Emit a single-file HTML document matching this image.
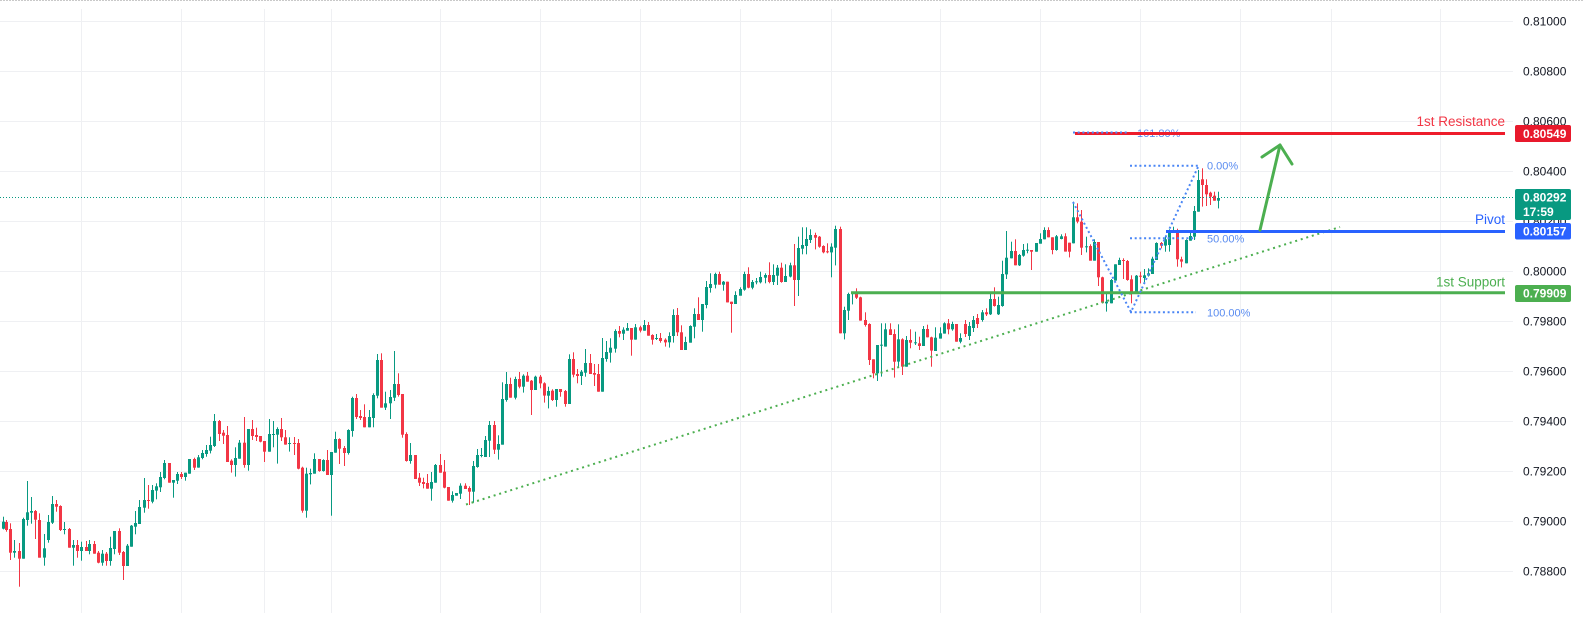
<!DOCTYPE html>
<html>
<head>
<meta charset="utf-8">
<style>
html,body{margin:0;padding:0;background:#fff;}
body{width:1584px;height:622px;overflow:hidden;}
svg{display:block;font-family:"Liberation Sans",Arial,sans-serif;}
</style>
</head>
<body>
<svg id="chart" width="1584" height="622" viewBox="0 0 1584 622" xmlns="http://www.w3.org/2000/svg">
  <rect x="0" y="0" width="1584" height="622" fill="#ffffff"/>
  <line x1="0" y1="0.5" x2="1584" y2="0.5" stroke="#c9c9c9" stroke-width="1" stroke-dasharray="2 1"/>
  <!-- horizontal grid -->
  <g stroke="#eff0f3" stroke-width="1">
    <line x1="0" y1="21.5" x2="1513" y2="21.5"/>
    <line x1="0" y1="71.5" x2="1513" y2="71.5"/>
    <line x1="0" y1="121.5" x2="1513" y2="121.5"/>
    <line x1="0" y1="171.5" x2="1513" y2="171.5"/>
    <line x1="0" y1="221.5" x2="1513" y2="221.5"/>
    <line x1="0" y1="271.5" x2="1513" y2="271.5"/>
    <line x1="0" y1="321.5" x2="1513" y2="321.5"/>
    <line x1="0" y1="371.5" x2="1513" y2="371.5"/>
    <line x1="0" y1="421.5" x2="1513" y2="421.5"/>
    <line x1="0" y1="471.5" x2="1513" y2="471.5"/>
    <line x1="0" y1="521.5" x2="1513" y2="521.5"/>
    <line x1="0" y1="571.5" x2="1513" y2="571.5"/>
  </g>
  <!-- vertical grid -->
  <g stroke="#eff0f3" stroke-width="1">
    <line x1="81.5" y1="9" x2="81.5" y2="613"/>
    <line x1="181.5" y1="9" x2="181.5" y2="613"/>
    <line x1="264.5" y1="9" x2="264.5" y2="613"/>
    <line x1="331.5" y1="9" x2="331.5" y2="613"/>
    <line x1="440.5" y1="9" x2="440.5" y2="613"/>
    <line x1="540.5" y1="9" x2="540.5" y2="613"/>
    <line x1="640.5" y1="9" x2="640.5" y2="613"/>
    <line x1="740.5" y1="9" x2="740.5" y2="613"/>
    <line x1="831.5" y1="9" x2="831.5" y2="613"/>
    <line x1="940.5" y1="9" x2="940.5" y2="613"/>
    <line x1="1040.5" y1="9" x2="1040.5" y2="613"/>
    <line x1="1140.5" y1="9" x2="1140.5" y2="613"/>
    <line x1="1240.5" y1="9" x2="1240.5" y2="613"/>
    <line x1="1331.5" y1="9" x2="1331.5" y2="613"/>
    <line x1="1440.5" y1="9" x2="1440.5" y2="613"/>
  </g>

  <g id="candles"></g>

  <!-- current price dotted line -->
  <line x1="0" y1="197.5" x2="1513" y2="197.5" stroke="#089981" stroke-width="1" stroke-dasharray="1 2"/>

  <!-- rising trendline (green dotted) -->
  <line x1="466" y1="504.5" x2="1340" y2="227" stroke="#4caf50" stroke-width="2" stroke-dasharray="2 3.8"/>

  <!-- support line -->
  <line x1="851" y1="292.7" x2="1505" y2="292.7" stroke="#4caf50" stroke-width="3"/>

  <!-- fib text 161.80 (under red line) -->
  <text x="1137" y="137" font-size="11" fill="#5a8cf0">161.80%</text>
  <!-- resistance line -->
  <line x1="1075" y1="133.5" x2="1505" y2="133.5" stroke="#ee1c2b" stroke-width="3"/>
  <line x1="1073" y1="132.5" x2="1128" y2="132.5" stroke="#4a86f5" stroke-width="2" stroke-dasharray="2 2.7"/>

  <!-- fib levels -->
  <g stroke="#4a86f5" stroke-width="2" stroke-dasharray="2 2.7" fill="none">
    <line x1="1130" y1="165.7" x2="1198" y2="165.7"/>
    <line x1="1130" y1="238.3" x2="1196" y2="238.3"/>
    <line x1="1130" y1="312.3" x2="1196" y2="312.3"/>
    <polyline points="1073,202 1131,312 1198,167"/>
  </g>
  <g font-size="11" fill="#5a8cf0">
    <text x="1207" y="169.7">0.00%</text>
    <text x="1207" y="242.3">50.00%</text>
    <text x="1207" y="316.3">100.00%</text>
  </g>

  <!-- pivot line -->
  <line x1="1166" y1="231.5" x2="1505" y2="231.5" stroke="#2962ff" stroke-width="3"/>

  <!-- arrow -->
  <g stroke="#4caf50" stroke-width="3" fill="none" stroke-linecap="round" stroke-linejoin="round">
    <line x1="1260" y1="230" x2="1280" y2="145"/>
    <polyline points="1262,157 1280,145 1292,164"/>
  </g>

  <!-- line labels -->
  <g font-size="13.5" text-anchor="end">
    <text x="1505" y="126" fill="#f23645">1st Resistance</text>
    <text x="1505" y="224" fill="#2962ff">Pivot</text>
    <text x="1505" y="286.5" fill="#4caf50">1st Support</text>
  </g>

  <!-- price axis labels -->
  <g font-size="12" fill="#131722">
    <text x="1523" y="25.3">0.81000</text>
    <text x="1523" y="75.3">0.80800</text>
    <text x="1523" y="125.3">0.80600</text>
    <text x="1523" y="175.3">0.80400</text>
    <text x="1523" y="225.3">0.80200</text>
    <text x="1523" y="275.3">0.80000</text>
    <text x="1523" y="325.3">0.79800</text>
    <text x="1523" y="375.3">0.79600</text>
    <text x="1523" y="425.3">0.79400</text>
    <text x="1523" y="475.3">0.79200</text>
    <text x="1523" y="525.3">0.79000</text>
    <text x="1523" y="575.3">0.78800</text>
  </g>

  <!-- price boxes -->
  <rect x="1515" y="125" width="56" height="17" rx="2" fill="#e8192c"/>
  <rect x="1515" y="189" width="56" height="31" rx="2" fill="#089981"/>
  <rect x="1515" y="223" width="56" height="16.5" rx="2" fill="#2962ff"/>
  <rect x="1515" y="285" width="56" height="17" rx="2" fill="#4caf50"/>
  <g font-size="12" font-weight="bold" fill="#ffffff">
    <text x="1523" y="137.8">0.80549</text>
    <text x="1523" y="201.5">0.80292</text>
    <text x="1523" y="216">17:59</text>
    <text x="1523" y="235.6">0.80157</text>
    <text x="1523" y="297.5">0.79909</text>
  </g>
</svg>

<script>
var segs = [
 [0,370,3,[
 ['g',8,455,476,440,478],['r',18,456,480,450,485],['r',30,477,548,460,570],['g',42,543,548,510,563],
 ['r',58,543,566,519,650],['g',70,447,566,443,566],['g',82,427,450,333,467],['g',94,423,428,381,461],
 ['r',106,423,449,420,507],['r',118,450,563,430,563],['g',132,535,563,492,587],['g',145,456,510,435,518],
 ['g',157,402,458,378,462],['r',168,402,410,390,425],['r',181,408,480,406,483],['g',193,477,480,456,493],
 ['r',208,477,533,474,533],['g',220,525,533,510,587],['r',232,525,543,510,563],['g',244,531,543,515,572],
 ['r',257,531,543,513,543],['g',268,522,543,510,553],['r',283,522,551,513,551],['r',295,548,578,543,580],
 ['g',307,551,578,540,587],['r',319,551,573,546,587],['g',331,534,573,500,587],['g',343,483,537,483,553],
 ['r',357,483,548,475,555],['r',369,546,588,543,630],['g',382,527,588,522,588],['g',393,467,530,465,530],
 ['g',406,459,470,423,493],['g',418,411,462,390,462],['g',432,390,413,324,428],['r',445,390,393,345,416],
 ['g',457,360,395,345,400],['g',469,349,362,340,388],['g',481,321,352,306,366],['g',493,279,324,270,328],
 ['r',508,279,338,279,338],['g',520,330,338,330,383],['g',532,312,332,306,342],['r',544,312,321,306,327],
 ['g',556,308,321,308,332],['g',568,267,311,267,311],['r',583,267,293,263,300],['g',595,262,293,255,293],
 ['g',607,249,264,240,268],['g',619,240,252,225,260],['g',631,225,242,200,250],['g',643,153,228,132,231],
 ['r',658,153,192,150,213],['r',670,188,197,180,222],['r',682,195,276,168,276],['r',694,272,285,268,308],
 ['g',706,264,285,232,320],['g',718,218,266,210,266],['r',733,218,285,141,293],['g',745,177,285,177,302],
 ['r',757,177,198,150,210],['r',769,195,201,173,213],['r',781,198,215,198,217],['r',793,213,245,213,276],
 ['g',808,192,245,147,245],['g',820,192,194,153,232],['g',832,177,194,172,281],['r',844,177,202,144,213],
 ['r',856,202,224,180,224],['g',868,219,221,202,245],['r',883,219,221,201,255],['r',895,219,296,207,298],
 ['r',907,293,422,290,428],['g',919,311,422,293,443],['g',931,309,313,296,343],['g',943,267,311,250,311],
 ['r',957,267,303,267,305],['g',969,270,303,268,305],['r',982,270,315,240,315],['g',994,246,315,246,437],
 ['g',1006,207,248,185,248],['r',1018,207,236,205,282],['r',1032,234,249,228,288],['g',1045,180,249,178,254],
 ['g',1057,84,183,80,200],['r',1069,84,141,72,147],['r',1081,138,144,120,150],['r',1093,141,172,103,172],
 ['g',1107,141,172,120,172],['g',1120,75,144,70,172]
 ]],
 [370,240,3,[
 ['g',22,360,467,342,475],['r',34,360,503,340,503],['g',46,490,503,455,510],['g',60,471,490,450,537],
 ['g',72,432,473,333,483],['r',85,432,465,400,470]
 ]],
 [0,370,3,[
 ['r',1207,72,194,72,203],['r',1219,192,273,187,275],['g',1231,255,273,219,281],['r',1245,255,327,255,327],
 ['r',1257,323,338,309,348],['r',1270,336,342,323,355],['r',1282,339,356,312,356],['g',1294,336,356,306,392],
 ['g',1306,285,338,282,338],['r',1320,285,308,252,308],['r',1333,305,353,270,355],['r',1345,351,392,351,392],
 ['g',1357,375,392,364,398],['g',1369,369,377,369,377],['g',1381,347,371,340,387],['r',1396,347,357,340,357],
 ['r',1408,354,365,349,405],['g',1420,288,365,273,398],['g',1432,255,291,237,293],['g',1444,255,258,234,262],
 ['g',1456,210,261,198,261],['g',1468,165,212,153,261],['r',1483,165,239,153,252],['g',1495,222,239,196,269]
 ]],
 [370,240,3,[
 ['g',397,477,614,427,614],['g',409,432,480,396,485],['r',421,432,473,413,473],['g',436,417,473,410,478],
 ['r',448,417,440,396,445],['g',460,407,440,403,458],['r',472,407,425,396,425],['r',484,422,450,420,525],
 ['g',496,410,450,407,450],['r',511,410,430,405,445],['r',523,430,467,427,488],['g',535,453,467,440,505],
 ['r',547,452,480,448,483],['g',559,447,480,447,500],['r',571,447,456,447,470],['r',586,453,492,450,500],
 ['g',598,357,492,343,492],['r',610,357,404,337,412],['r',622,402,408,387,430],['g',634,395,408,390,435],
 ['g',646,369,398,327,410],['r',660,369,402,342,402],['r',673,399,404,372,438],['r',685,402,455,372,455],
 ['g',697,354,455,294,455],['g',709,336,357,303,365],['g',721,323,338,295,368],['g',736,273,326,268,338],
 ['r',748,273,281,258,292],['g',760,269,281,262,300],['g',772,264,272,249,272],['r',784,264,299,264,347],
 ['g',796,262,299,252,299],['r',811,262,272,257,277],['g',823,255,272,240,272],['r',835,255,287,246,287],
 ['r',847,285,299,283,314],['g',859,294,296,282,300],['r',871,294,303,279,308],['r',886,299,307,295,320],
 ['g',898,288,307,277,323]
 ]],
 [660,220,3,[
 ['g',40,285,348,268,368],['r',52,285,337,264,348],['r',64,337,390,316,390],['g',76,366,390,350,390],
 ['g',91,318,368,316,368],['g',103,282,320,265,355],['r',115,282,300,232,300],['g',127,252,300,252,335],
 ['g',139,201,255,183,265],['g',151,192,204,160,218],['g',166,162,194,158,205],['r',178,162,194,155,194],
 ['g',190,185,194,183,212],['r',202,185,247,185,247],['r',214,245,252,245,338],['g',226,225,252,214,252],
 ['g',241,207,227,202,227],['g',253,162,209,155,212],['r',265,162,203,142,205],['g',277,186,203,180,208],
 ['g',289,184,187,174,193],['g',301,171,187,155,190],['g',316,165,173,160,190],['r',328,165,186,127,190],
 ['g',340,165,186,133,195],['g',352,143,167,135,195],['r',364,143,186,128,188],['g',376,168,186,133,186],
 ['g',391,136,170,128,172],['r',403,136,180,72,258],['g',415,84,180,50,228],['g',427,75,86,22,103],
 ['g',439,57,78,22,103],['g',451,45,60,28,69],['r',466,45,53,38,88],['r',478,50,80,48,83],
 ['r',490,78,97,76,100],['r',502,94,97,70,100],['g',514,80,97,70,172],['g',526,27,83,17,136],
 ['r',541,27,340,20,340],['g',553,270,340,260,358],['g',565,222,272,218,300],['g',577,218,222,215,253],
 ['r',589,218,233,205,237],['r',601,232,302,230,302],['r',616,300,315,277,320],['r',628,312,420,310,435],
 ['r',640,418,460,418,475],['g',652,375,460,375,483],['g',664,374,377,310,470],['g',676,328,380,310,380],
 ['r',691,328,345,310,345],['r',703,342,425,328,473],['g',715,358,425,313,440],['r',727,358,440,355,465],
 ['g',739,360,440,348,440],['r',751,360,368,328,385],['g',766,367,369,335,375],['r',778,370,378,350,390],
 ['g',790,327,378,318,378],['r',802,327,352,314,352],['r',814,352,392,350,440],['g',826,353,393,322,393],
 ['g',841,340,356,322,356],['g',853,310,341,307,341],['r',865,310,328,297,343],['g',877,312,328,305,332],
 ['r',889,312,365,312,365],['g',901,354,365,340,370]
 ]],
 [0,0,1,[
 ['r',964.5,324,334,320,337],['g',968.7,326,336,322,340],['g',972.8,320,328,316,332],['r',977,318,324,314,328]
 ]],
 [950,150,3,[
 ['g',95,487,510,480,515],['r',107,487,493,475,498],['g',120,447,493,430,495],['r',133,447,468,412,470],
 ['g',145,465,493,440,495],['g',157,372,468,332,470],['g',169,323,373,243,387],['g',183,303,325,275,325],
 ['r',195,303,346,268,346],['g',207,315,346,312,348],['g',219,300,317,282,320],['g',231,299,301,280,310],
 ['r',243,300,305,300,360],['g',259,279,305,279,305],['g',271,267,281,250,281],['g',283,240,268,232,268],
 ['r',295,240,262,232,262],['r',307,262,300,262,313],['g',319,259,300,255,302],['g',334,259,267,253,268],
 ['r',346,259,305,250,305],['r',358,278,305,278,322],['g',370,202,280,155,280],['r',382,202,215,160,220],
 ['r',394,215,293,180,315],['g',409,289,291,260,307],['r',421,288,332,283,332],['g',433,276,332,268,332],
 ['r',445,276,382,276,408],['r',457,382,458,380,460],['g',469,455,460,430,485],['g',484,390,460,387,460],
 ['g',496,343,392,343,392],['g',508,330,345,323,345],['r',520,330,333,325,387],['r',532,333,390,330,392],
 ['r',544,388,428,376,460],['g',559,377,430,375,428],['r',571,377,380,365,400],['g',583,376,384,357,397],
 ['g',595,370,377,355,380],['g',607,326,372,320,372],['g',619,279,330,277,330],['r',634,279,287,276,295],
 ['g',646,268,287,260,305],['g',658,240,285,238,305],['g',670,240,245,230,245],['r',682,244,328,236,350],
 ['r',694,328,335,320,352],['g',709,270,340,268,340],['g',721,258,272,245,272],['g',733,183,260,168,270],
 ['g',745,90,185,60,185],['r',757,88,105,55,170],['r',769,105,133,88,168],['r',781,128,140,125,165],
 ['r',793,137,152,125,152],['g',805,144,152,125,175]
 ]]
];
(function(){
  var s='';
  for (var i=0;i<segs.length;i++){
    var ox=segs[i][0], oy=segs[i][1], sc=segs[i][2], arr=segs[i][3];
    for (var j=0;j<arr.length;j++){
      var c=arr[j];
      var cx=ox+c[1]/sc;
      var y1=oy+c[2]/sc, y2=oy+c[3]/sc, w1=oy+c[4]/sc, w2=oy+c[5]/sc;
      if (w1>y1) w1=y1; if (w2<y2) w2=y2;
      var fill=c[0]==='g'?'#089981':'#f23645';
      var X=Math.round(cx);
      s+='<rect x="'+X+'" y="'+w1.toFixed(1)+'" width="1" height="'+Math.max(1,w2-w1).toFixed(1)+'" fill="'+fill+'"/>';
      s+='<rect x="'+(X-1)+'" y="'+y1.toFixed(1)+'" width="3" height="'+Math.max(1,y2-y1).toFixed(1)+'" fill="'+fill+'"/>';
    }
  }
  document.getElementById('candles').innerHTML=s;
})();
</script>
</body>
</html>
